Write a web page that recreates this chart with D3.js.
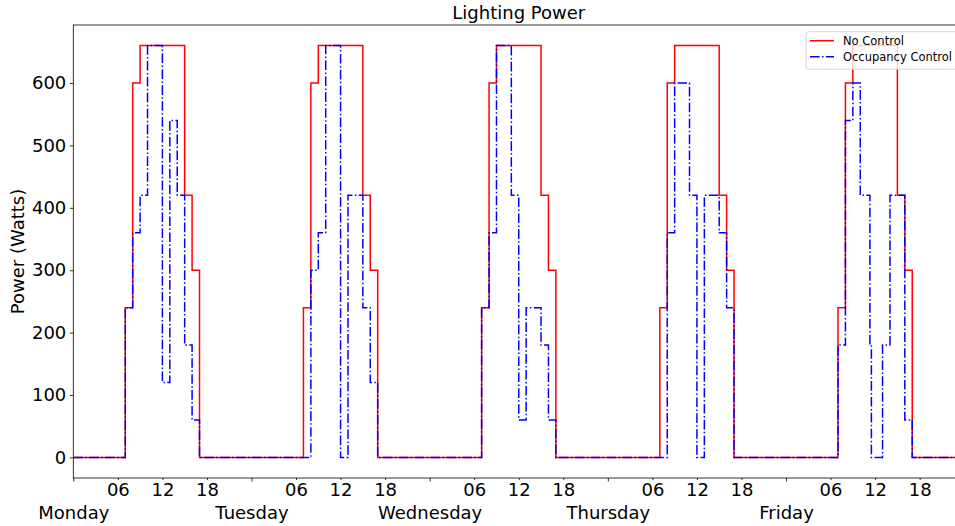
<!DOCTYPE html>
<html>
<head>
<meta charset="utf-8">
<script src="https://cdn.jsdelivr.net/npm/d3@7"></script>
<style>
  body { margin: 0; background: #fff; }
  text { font-family: "DejaVu Sans", sans-serif; }
</style>
</head>
<body>
<script>
'use strict';

// step change points (hour since Monday 00:00, watts from that hour on)
const noControlHours = [0, 7, 8, 9, 15, 16, 17,
  31, 32, 33, 39, 40, 41,
  55, 56, 57, 63, 64, 65,
  79, 80, 81, 87, 88, 89,
  103, 104, 105, 111, 112, 113];
const noControlWatts = [0, 240, 600, 660, 420, 300, 0,
  240, 600, 660, 420, 300, 0,
  240, 600, 660, 420, 300, 0,
  240, 600, 660, 420, 300, 0,
  240, 600, 660, 420, 300, 0];

const occupancyHours = [0, 7, 8, 9, 10, 12, 13, 14, 15, 16, 17,
  32, 33, 34, 36, 37, 39, 40, 41,
  55, 56, 57, 59, 60, 61, 63, 64, 65,
  80, 81, 83, 84, 85, 87, 88, 89,
  103, 104, 105, 106, 107.3, 107.5, 109, 110, 112, 113];
const occupancyWatts = [0, 240, 360, 420, 660, 120, 540, 420, 180, 60, 0,
  300, 360, 660, 0, 420, 240, 120, 0,
  240, 360, 660, 420, 60, 240, 180, 60, 0,
  360, 600, 420, 0, 420, 360, 240, 0,
  180, 540, 600, 420, 180, 0, 180, 420, 60, 0];

const dayNames = ["Monday", "Tuesday", "Wednesday", "Thursday", "Friday"];
const hourLabels = ["06", "12", "18"];
const powerTicks = [0, 100, 200, 300, 400, 500, 600];

const totalHours = 120;

const width = 955, height = 526;
const margin = { left: 73.3, top: 25, right: -9.2, bottom: 48 };
const plotRight = width - margin.right;
const plotBottom = height - margin.bottom;

const svg = d3.select('body').append('svg')
  .attr('width', width)
  .attr('height', height);

svg.append('rect').attr('width', width).attr('height', height).attr('fill', '#fff');

const xScale = d3.scaleLinear()
  .domain([0, totalHours])
  .range([margin.left, plotRight]);

const yScale = d3.scaleLinear()
  .domain([-33, 693])
  .range([plotBottom, margin.top]);

// clip lines to plot area
svg.append('clipPath').attr('id', 'plotClip')
  .append('rect')
  .attr('x', margin.left).attr('y', margin.top)
  .attr('width', plotRight - margin.left)
  .attr('height', plotBottom - margin.top);

function toPoints(hours, watts) {
  let pts = hours.map((h, i) => [h, watts[i]]);
  pts.push([totalHours, watts[watts.length - 1]]);
  return pts;
}

const line = d3.line()
  .x(d => xScale(d[0]))
  .y(d => yScale(d[1]))
  .curve(d3.curveStepAfter);

const plot = svg.append('g').attr('clip-path', 'url(#plotClip)');

plot.append('path')
  .attr('d', line(toPoints(noControlHours, noControlWatts)))
  .attr('fill', 'none')
  .attr('stroke', '#ff0000')
  .attr('stroke-width', 1.5);

plot.append('path')
  .attr('d', line(toPoints(occupancyHours, occupancyWatts)))
  .attr('fill', 'none')
  .attr('stroke', '#0000ff')
  .attr('stroke-width', 1.5)
  .attr('stroke-dasharray', '9.6,2.4,1.5,2.4');

// minor ticks: hours of each day
let hourTickValues = [];
dayNames.forEach((d, i) => {
  hourLabels.forEach(h => hourTickValues.push(i * 24 + (+h)));
});

const xMinorAxis = d3.axisBottom(xScale)
  .tickValues(hourTickValues)
  .tickSize(2)
  .tickSizeOuter(0)
  .tickPadding(3.5)
  .tickFormat(h => hourLabels[hourLabels.indexOf(String(h % 24).padStart(2, '0'))]);

const gxMinor = svg.append('g')
  .attr('transform', `translate(0, ${plotBottom})`)
  .call(xMinorAxis);

// major ticks: day starts, labels on second line
const xMajorAxis = d3.axisBottom(xScale)
  .tickValues(dayNames.map((d, i) => i * 24))
  .tickSize(3.5)
  .tickSizeOuter(0)
  .tickPadding(3.5)
  .tickFormat((h, i) => dayNames[i]);

const gxMajor = svg.append('g')
  .attr('transform', `translate(0, ${plotBottom})`)
  .call(xMajorAxis);
gxMajor.selectAll('text').attr('dy', '1.91em');

const yAxis = d3.axisLeft(yScale)
  .tickValues(powerTicks)
  .tickSize(3.5)
  .tickSizeOuter(0)
  .tickPadding(3.5);

const gy = svg.append('g')
  .attr('transform', `translate(${margin.left}, 0)`)
  .call(yAxis);

[gxMinor, gxMajor, gy].forEach(g => {
  g.select('.domain').remove();
  g.selectAll('text')
    .style('font-family', '"DejaVu Sans", sans-serif')
    .style('font-size', '18px')
    .attr('fill', '#000');
  g.selectAll('line').attr('stroke', '#000').attr('stroke-width', 0.8);
});

// spines
svg.append('rect')
  .attr('x', margin.left).attr('y', margin.top)
  .attr('width', plotRight - margin.left)
  .attr('height', plotBottom - margin.top)
  .attr('fill', 'none')
  .attr('stroke', '#000')
  .attr('stroke-width', 0.8);

// title and axis label
svg.append('text')
  .attr('x', (margin.left + plotRight) / 2)
  .attr('y', 19)
  .attr('text-anchor', 'middle')
  .style('font-size', '18px')
  .text('Lighting Power');

svg.append('text')
  .attr('transform', `translate(23.5, ${(margin.top + plotBottom) / 2}) rotate(-90)`)
  .attr('text-anchor', 'middle')
  .style('font-size', '18px')
  .text('Power (Watts)');

// legend
const legendX = 806, legendY = 31.7;
const legend = svg.append('g');
legend.append('rect')
  .attr('x', legendX).attr('y', legendY)
  .attr('width', 152).attr('height', 37.5)
  .attr('rx', 2.5)
  .attr('fill', '#fff').attr('fill-opacity', 0.8)
  .attr('stroke', '#cccccc').attr('stroke-width', 0.8);

const legendItems = [
  { name: 'No Control', color: '#ff0000', dash: null },
  { name: 'Occupancy Control', color: '#0000ff', dash: '9.6,2.4,1.5,2.4' }
];

legendItems.forEach((item, i) => {
  let cy = legendY + 9 + i * 16;
  legend.append('line')
    .attr('x1', legendX + 4).attr('x2', legendX + 28)
    .attr('y1', cy).attr('y2', cy)
    .attr('stroke', item.color)
    .attr('stroke-width', 1.5)
    .attr('stroke-dasharray', item.dash);
  legend.append('text')
    .attr('x', legendX + 37)
    .attr('y', cy)
    .attr('dy', '0.36em')
    .style('font-size', '11.5px')
    .text(item.name);
});
</script>
</body>
</html>
